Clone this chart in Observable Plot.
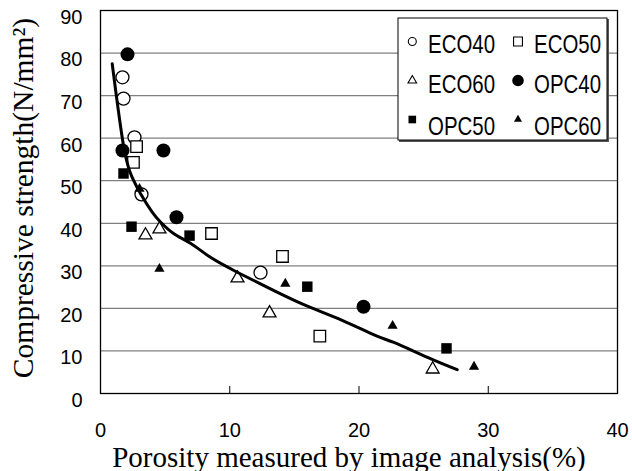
<!DOCTYPE html>
<html><head><meta charset="utf-8">
<script src="https://cdn.jsdelivr.net/npm/d3@7"></script>
<script src="https://cdn.jsdelivr.net/npm/@observablehq/plot@0.6"></script>
<style>
html,body{margin:0;padding:0;background:#fff;}
#chart{width:632px;height:471px;}
</style></head><body><div id="chart"></div>
<script>
// ---- data ----
const eco40Porosity = [1.70, 1.78, 2.63, 3.17, 12.38];
const eco40Strength = [74.3, 69.3, 60.2, 46.8, 28.4];
const eco50Porosity = [2.79, 2.55, 8.59, 14.08, 16.97];
const eco50Strength = [58.0, 54.3, 37.6, 32.2, 13.5];
const eco60Porosity = [3.48, 4.56, 10.6, 13.08, 25.7];
const eco60Strength = [37.2, 38.6, 27.1, 18.9, 5.7];
const opc40Porosity = [2.09, 1.70, 4.87, 5.88, 20.35];
const opc40Strength = [79.7, 57.1, 57.1, 41.4, 20.4];
const opc50Porosity = [1.78, 2.40, 6.89, 16.0, 26.77];
const opc50Strength = [51.7, 39.2, 37.1, 25.1, 10.6];
const opc60Porosity = [3.02, 4.56, 14.3, 22.6, 28.9];
const opc60Strength = [48.1, 29.3, 25.8, 15.9, 6.3];

// trend curve
const fitPorosity = [0.905, 1.80, 2.45, 3.09, 4.0, 4.64, 5.65, 6.96, 8.51, 10.58, 13.54, 16.1, 18.7, 21.3, 22.7, 25.3, 27.6];
const fitStrength = [77.5, 57.9, 50.8, 47.0, 42.6, 40.3, 37.6, 35.3, 32.0, 28.5, 24.0, 20.4, 17.2, 13.6, 12.0, 8.5, 5.6];

const seriesNames = ["ECO40", "ECO50", "ECO60", "OPC40", "OPC50", "OPC60"];
const xTicks = [0, 10, 20, 30, 40];
const yTicks = [0, 10, 20, 30, 40, 50, 60, 70, 80, 90];
const xTitle = "Porosity measured by image analysis(%)";
const yTitle = "Compressive strength(N/mm\u00B2)";

// ---- styles ----
const styles = {
  ECO40: {symbol: "circle", filled: false, r: 6.5, lr: 4},
  ECO50: {symbol: "square", filled: false, r: 6.5, lr: 5},
  ECO60: {symbol: "triangle", filled: false, r: 4.8, lr: 3.2},
  OPC40: {symbol: "circle", filled: true, r: 7, lr: 5.8},
  OPC50: {symbol: "square", filled: true, r: 5.9, lr: 4.3},
  OPC60: {symbol: "triangle", filled: true, r: 3.8, lr: 3.0}
};
const seriesData = {
  ECO40: [eco40Porosity, eco40Strength],
  ECO50: [eco50Porosity, eco50Strength],
  ECO60: [eco60Porosity, eco60Strength],
  OPC40: [opc40Porosity, opc40Strength],
  OPC50: [opc50Porosity, opc50Strength],
  OPC60: [opc60Porosity, opc60Strength]
};
const fit = fitPorosity.map((x, i) => ({x, y: fitStrength[i]}));

const dotMarks = seriesNames.map(name => {
  const [xs, ys] = seriesData[name];
  const st = styles[name];
  const data = xs.map((x, i) => ({x, y: ys[i]}));
  return Plot.dot(data, {
    x: "x", y: "y", symbol: () => st.symbol, r: st.r,
    fill: st.filled ? "black" : "white",
    stroke: st.filled ? "none" : "black",
    strokeWidth: 1.3
  });
});

const serif = "'Liberation Serif', 'Times New Roman', serif";
const plot = Plot.plot({
  width: 632, height: 471,
  marginLeft: 100, marginRight: 15, marginTop: 10, marginBottom: 78,
  style: {fontFamily: "'Liberation Sans', Arial, sans-serif", fontSize: "20px", background: "white", overflow: "visible"},
  x: {domain: [0, 40]},
  y: {domain: [0, 90]},
  marks: [
    Plot.gridY(yTicks.filter(d => d > 0 && d < 90), {stroke: "#808080", strokeOpacity: 1, strokeWidth: 1.2}),
    Plot.tickX(xTicks.filter(d => d > 0 && d < 40), {x: d => d, stroke: "black", strokeWidth: 1, insetTop: 376}),
    ...dotMarks,
    Plot.line(fit, {x: "x", y: "y", curve: "natural", stroke: "black", strokeWidth: 3}),
    Plot.frame({stroke: "black", strokeWidth: 1.3}),
    Plot.axisY({ticks: yTicks, tickSize: 0, tickPadding: 18, fontSize: 20, dy: 7, label: null}),
    Plot.axisX({ticks: xTicks, tickSize: 0, tickPadding: 29, fontSize: 20, label: null}),
    Plot.text([xTitle], {text: d => d, frameAnchor: "bottom", textAnchor: "middle", dy: 73, dx: -10, fontSize: 29, fontFamily: serif}),
    Plot.text([yTitle], {text: d => d, frameAnchor: "left", textAnchor: "middle", lineAnchor: "middle", dx: -77, dy: -4, rotate: -90, fontSize: 29.5, fontFamily: serif})
  ]
});
document.getElementById("chart").appendChild(plot);

// ---- legend (inside plot area, top right) ----
const svg = d3.select(plot);
const lg = svg.append("g").attr("class", "legend");
lg.append("rect").attr("x", 399).attr("y", 19).attr("width", 210).attr("height", 123).attr("fill", "#555");
lg.append("rect").attr("x", 398).attr("y", 18).attr("width", 209).attr("height", 122).attr("fill", "white").attr("stroke", "black").attr("stroke-width", 1);
const colSym = [412.3, 518], colText = [428, 534];
const rowSym = [41.5, 80.5, 119.5], rowBase = [53, 92.5, 135];
const symMap = {circle: d3.symbolCircle, square: d3.symbolSquare, triangle: d3.symbolTriangle};
seriesNames.forEach((name, i) => {
  const c = i % 2, rI = Math.floor(i / 2);
  const st = styles[name];
  lg.append("path")
    .attr("d", d3.symbol(symMap[st.symbol], Math.PI * st.lr * st.lr)())
    .attr("transform", `translate(${colSym[c]},${rowSym[rI]})`)
    .attr("fill", st.filled ? "black" : "white")
    .attr("stroke", st.filled ? "none" : "black")
    .attr("stroke-width", 1.1);
  lg.append("text").text(name)
    .attr("x", colText[c]).attr("y", rowBase[rI])
    .attr("text-anchor", "start")
    .attr("font-family", "'Liberation Sans', Arial, sans-serif")
    .attr("font-size", 25)
    .attr("textLength", 67).attr("lengthAdjust", "spacingAndGlyphs")
    .attr("fill", "black");
});
</script>
</body></html>
